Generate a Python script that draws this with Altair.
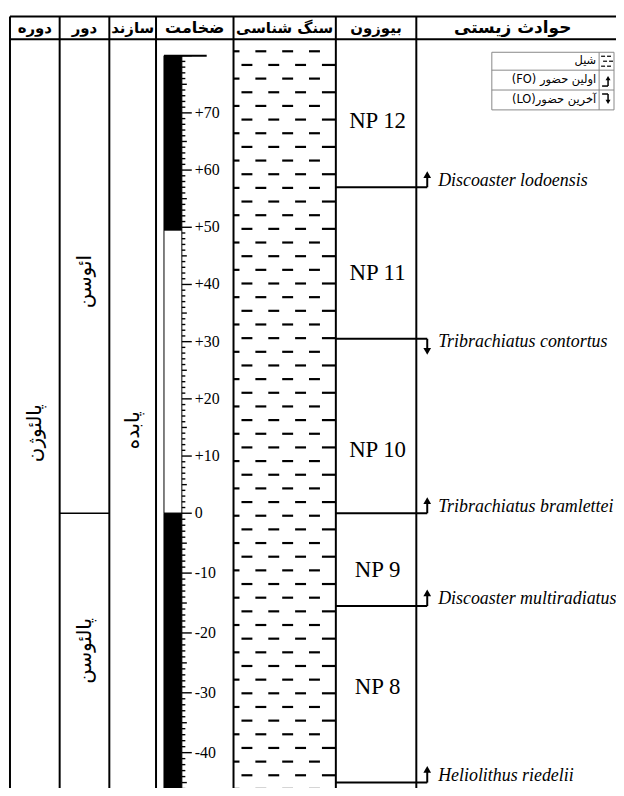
import altair as alt
import pandas as pd
import numpy as np

# ---------------- data ----------------
header_titles = ["دوره", "دور", "سازند", "ضخامت", "سنگ شناسی", "بیوزون", "حوادث زیستی"]

period_names = ["پالئوژن"]
period_label_depth = [14]
formation_names = ["پابده"]
formation_label_depth = [14.5]
epoch_names = ["ائوسن", "پالئوسن"]
epoch_label_depth = [40.5, -23]
epoch_boundaries = [0]

scale_values = [70, 60, 50, 40, 30, 20, 10, 0, -10, -20, -30, -40]
scale_labels = ["+70", "+60", "+50", "+40", "+30", "+20", "+10", "0", "-10", "-20", "-30", "-40"]
bar_tops = [80, 49.5, 0]
bar_bottoms = [49.5, 0, -48]
bar_colors = ["black", "white", "black"]

biozone_names = ["NP 12", "NP 11", "NP 10", "NP 9", "NP 8"]
biozone_label_depth = [68.5, 42, 11, -9.5, -29]

event_species = ["Discoaster lodoensis", "Tribrachiatus contortus", "Tribrachiatus bramlettei",
                 "Discoaster multiradiatus", "Heliolithus riedelii"]
event_types = ["FO", "LO", "FO", "FO", "FO"]
event_depth = [57, 30.5, 0, -15.5, -45]

legend_labels = ["شیل", "اولین حضور (FO)", "آخرین حضور(LO)"]

# ---------------- layout ----------------
W, H = 612, 774
col_edges = [10, 60, 110, 157, 235, 338, 419]
header_centers = [35, 85, 133.5, 196, 286.5, 378.5, 516]
FA = "DejaVu Sans"
FS = "Liberation Serif"
RLE, PDF = "\u202B", "\u202C"

X = alt.Scale(domain=[8, 8 + W], range=[0, W], nice=False, zero=False)
YD = alt.Scale(domain=[86.85, 0, -45.48], range=[0, 500, H], nice=False, zero=False)
YP = alt.Scale(domain=[14, 14 + H], range=[0, H], nice=False, zero=False)


def xq(f):
    return alt.X(f, type="quantitative", scale=X, axis=None)


def yd(f):
    return alt.Y(f, type="quantitative", scale=YD, axis=None)


def yp(f):
    return alt.Y(f, type="quantitative", scale=YP, axis=None)


layers = []

# frame: vertical column borders
frame_v = pd.DataFrame({"x": col_edges, "y0": 14, "y1": 796})
layers.append(alt.Chart(frame_v).mark_rule(color="black", strokeWidth=2).encode(
    x=xq("x"), y=yp("y0"), y2=alt.Y2("y1")))

# header horizontal lines
frame_h = pd.DataFrame({"x0": [10, 10], "x1": [626, 626], "y": [14, 37]})
layers.append(alt.Chart(frame_h).mark_rule(color="black", strokeWidth=2).encode(
    x=xq("x0"), x2=alt.X2("x1"), y=yp("y")))

# header texts
hdr = pd.DataFrame({"t": header_titles, "x": header_centers, "y": 25.5})
hdr["fs"] = [15, 15, 15, 16, 15, 15, 17]
layers.append(alt.Chart(hdr).mark_text(font=FA, fontWeight="bold", color="black",
                                       align="center", baseline="middle").encode(
    x=xq("x"), y=yp("y"), text="t:N", size=alt.Size("fs:Q", scale=None, legend=None)))

# epoch boundary
eb = pd.DataFrame({"d": epoch_boundaries, "x0": 60, "x1": 110})
layers.append(alt.Chart(eb).mark_rule(color="black", strokeWidth=1.5).encode(
    x=xq("x0"), x2=alt.X2("x1"), y=yd("d")))

# rotated labels
rot = pd.DataFrame({
    "t": period_names + epoch_names + formation_names,
    "d": period_label_depth + epoch_label_depth + formation_label_depth,
    "x": [35, 86, 86, 133.5],
})
layers.append(alt.Chart(rot).mark_text(font=FA, fontSize=20, angle=270, color="black",
                                       align="center", baseline="middle").encode(
    x=xq("x"), y=yd("d"), text="t:N"))

# thickness bar
bars = pd.DataFrame({"top": bar_tops, "bot": bar_bottoms, "c": bar_colors, "x0": 165, "x1": 183})
layers.append(alt.Chart(bars).mark_rect(stroke="black", strokeWidth=1).encode(
    x=xq("x0"), x2=alt.X2("x1"), y=yd("top"), y2=alt.Y2("bot"),
    color=alt.Color("c:N", scale=None)))

# ticks
tv = np.arange(80, -49, -1)
tlen = np.where(tv % 10 == 0, 10, np.where(tv % 5 == 0, 5, 3.5))
ticks = pd.DataFrame({"d": tv, "x0": 183, "x1": 183 + tlen})
layers.append(alt.Chart(ticks).mark_rule(color="black", strokeWidth=1.4).encode(
    x=xq("x0"), x2=alt.X2("x1"), y=yd("d")))

# top line of the bar
topl = pd.DataFrame({"d": [bar_tops[0]], "x0": 165, "x1": 208})
layers.append(alt.Chart(topl).mark_rule(color="black", strokeWidth=2).encode(
    x=xq("x0"), x2=alt.X2("x1"), y=yd("d")))

# scale labels
sl = pd.DataFrame({"t": scale_labels, "d": scale_values, "x": 196})
layers.append(alt.Chart(sl).mark_text(font=FS, fontSize=16, color="black", align="left",
                                      baseline="middle").encode(
    x=xq("x"), y=yd("d"), text="t:N"))

# lithology: shale dashes (pattern)
rows = []
lith_l, lith_r = 235, 338
for i, ry in enumerate(np.arange(49, 797, 13.75)):
    start = 230 if i % 2 == 0 else 243
    for k in range(5):
        a = start + 27 * k
        b = a + 11
        if i % 2 == 1 and k == 3:
            b = lith_r
        a2, b2 = max(a, lith_l), min(b, lith_r)
        if b2 - a2 > 1:
            rows.append({"y": ry, "x0": a2, "x1": b2})
dashes = pd.DataFrame(rows)
layers.append(alt.Chart(dashes).mark_rule(color="black", strokeWidth=2.2).encode(
    x=xq("x0"), x2=alt.X2("x1"), y=yp("y")))

# biozone labels
bz = pd.DataFrame({"t": biozone_names, "d": biozone_label_depth, "x": 380})
layers.append(alt.Chart(bz).mark_text(font=FS, fontSize=23, color="black", align="center",
                                      baseline="middle").encode(
    x=xq("x"), y=yd("d"), text="t:N"))

# events
ev = pd.DataFrame({"sp": event_species, "ty": event_types, "d": event_depth})
fo = ev["ty"] == "FO"
ev["tip"] = np.where(fo, ev["d"] + 1.8, ev["d"] - 1.8)
ev["head"] = np.where(fo, ev["d"] + 2.2, ev["d"] - 2.2)
ev["ly"] = np.where(fo, ev["d"] + 1.1, ev["d"] - 0.6)
ev["x0"] = 338
ev["x1"] = 430
ev["xt"] = 441
layers.append(alt.Chart(ev).mark_rule(color="black", strokeWidth=2).encode(
    x=xq("x0"), x2=alt.X2("x1"), y=yd("d")))
layers.append(alt.Chart(ev).mark_rule(color="black", strokeWidth=2).encode(
    x=xq("x1"), y=yd("d"), y2=alt.Y2("tip")))
layers.append(alt.Chart(ev).mark_point(filled=True, color="black", size=60, opacity=1).encode(
    x=xq("x1"), y=yd("head"),
    shape=alt.Shape("ty:N", scale=alt.Scale(domain=["FO", "LO"], range=["triangle-up", "triangle-down"]),
                    legend=None)))
layers.append(alt.Chart(ev).mark_text(font=FS, fontSize=18, fontStyle="italic", color="black",
                                      align="left", baseline="middle").encode(
    x=xq("xt"), y=yd("ly"), text="sp:N"))

# legend box
lg_box = pd.DataFrame({"x0": [495], "x1": [618], "y0": [50], "y1": [108]})
layers.append(alt.Chart(lg_box).mark_rect(fill="white", stroke="#888888", strokeWidth=1).encode(
    x=xq("x0"), x2=alt.X2("x1"), y=yp("y0"), y2=alt.Y2("y1")))
lg_h = pd.DataFrame({"x0": 495, "x1": 618, "y": [68, 88]})
layers.append(alt.Chart(lg_h).mark_rule(color="#888888", strokeWidth=1).encode(
    x=xq("x0"), x2=alt.X2("x1"), y=yp("y")))
lg_v = pd.DataFrame({"x": [603], "y0": [50], "y1": [108]})
layers.append(alt.Chart(lg_v).mark_rule(color="#888888", strokeWidth=1).encode(
    x=xq("x"), y=yp("y0"), y2=alt.Y2("y1")))
lg_t = pd.DataFrame({"t": [RLE + s + PDF for s in legend_labels], "x": 600, "y": [59, 78, 98]})
layers.append(alt.Chart(lg_t).mark_text(font=FA, fontSize=11.5, color="black", align="right",
                                        baseline="middle").encode(
    x=xq("x"), y=yp("y"), text="t:N"))
# legend icons
icon_rows = []
for j, iy in enumerate([54, 59, 64]):
    off = 0 if j % 2 == 0 else 2
    icon_rows.append({"x0": 605 + off, "x1": 609 + off, "y": iy})
    icon_rows.append({"x0": 611 + off, "x1": 615 + off, "y": iy})
icons = pd.DataFrame(icon_rows)
layers.append(alt.Chart(icons).mark_rule(color="black", strokeWidth=1.2).encode(
    x=xq("x0"), x2=alt.X2("x1"), y=yp("y")))
ic_lines = pd.DataFrame({"x0": [606, 612, 606, 612], "x1": [612, 612, 612, 612],
                         "y0": [84, 84, 92, 92], "y1": [84, 77, 92, 99]})
layers.append(alt.Chart(ic_lines).mark_rule(color="black", strokeWidth=1.5).encode(
    x=xq("x0"), x2=alt.X2("x1"), y=yp("y0"), y2=alt.Y2("y1")))
ic_heads = pd.DataFrame({"x": [612, 612], "y": [76, 100], "ty": ["FO", "LO"]})
layers.append(alt.Chart(ic_heads).mark_point(filled=True, color="black", size=25, opacity=1).encode(
    x=xq("x"), y=yp("y"),
    shape=alt.Shape("ty:N", scale=alt.Scale(domain=["FO", "LO"], range=["triangle-up", "triangle-down"]),
                    legend=None)))

chart = alt.layer(*layers).resolve_scale(y="independent", shape="independent").properties(
    width=W, height=H,
    padding={"left": 0, "top": 6, "right": 0, "bottom": 0},
    autosize=alt.AutoSizeParams(type="none"),
    background="white",
).configure_view(stroke=None)

chart.save("out.html", embed_options={"renderer": "svg", "actions": False})
